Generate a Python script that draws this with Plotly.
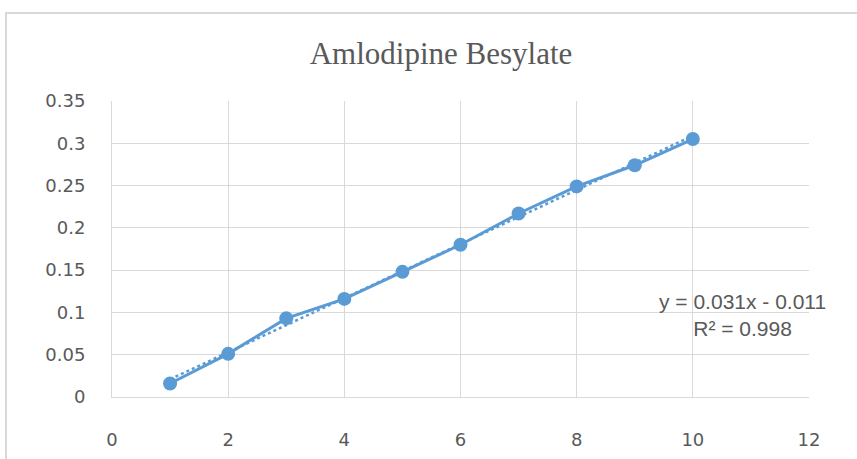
import numpy as np
import plotly.graph_objects as go

# calibration data
concentration = [1, 2, 3, 4, 5, 6, 7, 8, 9, 10]
absorbance = [0.016, 0.051, 0.093, 0.116, 0.148, 0.180, 0.217, 0.249, 0.274, 0.305]
x_ticks = [0, 2, 4, 6, 8, 10, 12]
y_ticks = [0, 0.05, 0.1, 0.15, 0.2, 0.25, 0.3, 0.35]
y_tick_text = ['0', '0.05', '0.1', '0.15', '0.2', '0.25', '0.3', '0.35']
equation_text = 'y = 0.031x - 0.011<br>R² = 0.998'

BLUE = '#5B9BD5'
GRID = '#d9d9d9'
TICK_FONT = dict(family='DejaVu Sans', size=18, color='#595959')

# linear trendline over the data range
slope, intercept = np.polyfit(concentration, absorbance, 1)
fit_x = [concentration[0], concentration[-1]]
fit_y = [slope * v + intercept for v in fit_x]

fig = go.Figure()
fig.add_trace(go.Scatter(
    x=fit_x, y=fit_y, mode='lines',
    line=dict(color=BLUE, width=2.5, dash='dot'),
    showlegend=False, hoverinfo='skip',
))
fig.add_trace(go.Scatter(
    x=concentration, y=absorbance, mode='lines+markers',
    line=dict(color=BLUE, width=3),
    marker=dict(color=BLUE, size=14),
    showlegend=False,
))

fig.update_layout(
    width=857, height=459,
    margin=dict(l=112, r=48, t=101, b=62, autoexpand=False),
    paper_bgcolor='white', plot_bgcolor='white',
    title=dict(
        text='Amlodipine Besylate', x=441 / 857, xanchor='center',
        y=1 - 53 / 459, yanchor='middle',
        font=dict(family='Liberation Serif', size=31, color='#595959'),
    ),
    xaxis=dict(
        range=[0, 12], tickvals=x_ticks, showgrid=True, gridcolor=GRID, gridwidth=1,
        zeroline=False, showline=True, linecolor=GRID, linewidth=1,
        ticks='', tickfont=TICK_FONT, ticklabelstandoff=26, automargin=False,
    ),
    yaxis=dict(
        range=[0, 0.35], tickvals=y_ticks, ticktext=y_tick_text,
        showgrid=True, gridcolor=GRID, gridwidth=1,
        zeroline=False, showline=True, linecolor=GRID, linewidth=1,
        ticks='', tickfont=TICK_FONT, ticklabelstandoff=22, automargin=False,
    ),
    shapes=[dict(
        type='rect', xref='paper', yref='paper',
        x0=(6 - 112) / 697, x1=1.2, y0=-0.4, y1=(397 - 13) / 296,
        line=dict(color='#d9d9d9', width=2), layer='below',
    )],
    annotations=[dict(
        xref='paper', yref='paper',
        x=(742 - 112) / 697, y=(397 - 315) / 296,
        xanchor='center', yanchor='middle', align='center',
        text=equation_text, showarrow=False,
        font=dict(family='Liberation Sans', size=21, color='#595959'),
    )],
)

# drop the default page margin so the figure sits at the window's corner
fig.write_html(
    'out.html',
    config={'displayModeBar': False},
    post_script="document.body.style.margin = '0';",
)
